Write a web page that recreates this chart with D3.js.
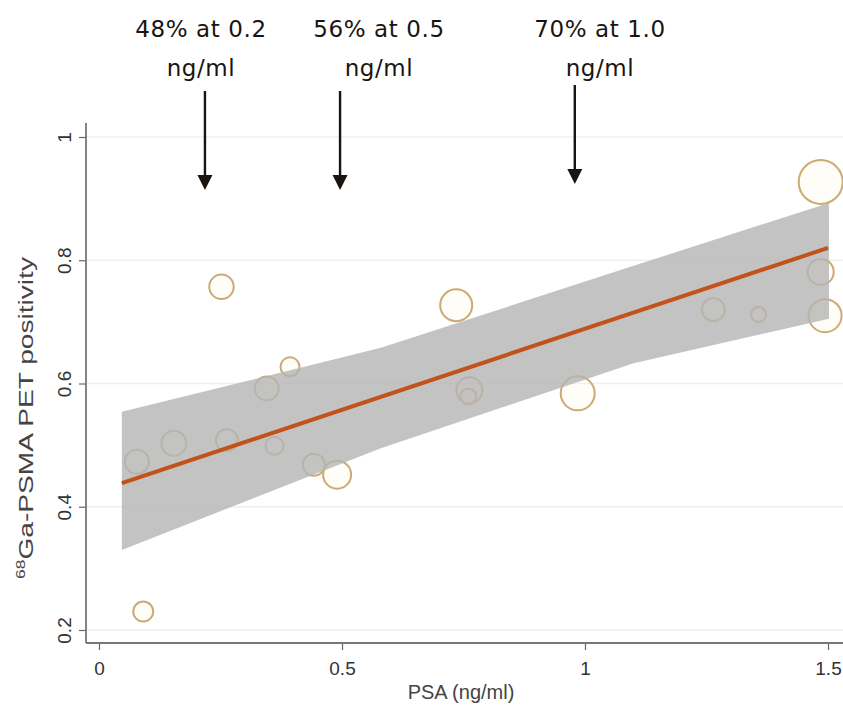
<!DOCTYPE html>
<html><head><meta charset="utf-8">
<script src="https://cdn.jsdelivr.net/npm/d3@7"></script>
<style>body{margin:0;background:#fff}svg{display:block}</style>
</head><body>
<svg id="chart" width="843" height="706"></svg>
<script>
// ---- data ----
const psa        = [0.078, 0.091, 0.154, 0.252, 0.263, 0.345, 0.361, 0.393, 0.442, 0.490, 0.735, 0.762, 0.760, 0.985, 1.264, 1.357, 1.485, 1.485, 1.494];
const positivity = [0.473, 0.230, 0.503, 0.757, 0.508, 0.592, 0.499, 0.627, 0.468, 0.452, 0.727, 0.589, 0.579, 0.584, 0.720, 0.712, 0.781, 0.927, 0.710];
const weight     = [144, 100, 156, 150, 121, 144, 81, 90, 121, 196, 256, 169, 64, 289, 132, 56, 169, 484, 272];
const fitX   = [0.047, 1.5];
const fitY   = [0.4385, 0.82];
const bandX  = [0.047, 0.58, 1.1, 1.502];
const bandLo = [0.330, 0.495, 0.633, 0.705];
const bandHi = [0.554, 0.658, 0.791, 0.893];
const xTicks = [0, 0.5, 1, 1.5];
const xTickLabels = ["0", "0.5", "1", "1.5"];
const yTicks = [0.2, 0.4, 0.6, 0.8, 1];
const yTickLabels = ["0.2", "0.4", "0.6", "0.8", "1"];
const annotLine1 = ["48% at 0.2", "56% at 0.5", "70% at 1.0"];
const annotLine2 = ["ng/ml", "ng/ml", "ng/ml"];
const annotArrowX = [0.218, 0.496, 0.979];
const xTitle = "PSA (ng/ml)";
const yTitleSup = "68";
const yTitle = "Ga-PSMA PET positivity";

// ---- layout ----
const L = {
  x0: 99, x1: 828, yTop: 137, yBot: 630,
  axisX: 86, axisY: 643, axisTop: 123, axisRight: 843,
  annotTextX: [201, 379, 600], annotArrowTop: [91, 91, 85], annotArrowTip: [190, 190, 184]
};

const svg = d3.select("#chart");
const x = d3.scaleLinear().domain([0, 1.5]).range([L.x0, L.x1]);
const y = d3.scaleLinear().domain([0.2, 1]).range([L.yBot, L.yTop]);
const r = d3.scaleSqrt().domain([0, d3.max(weight)]).range([0, 22]);

// gridlines
svg.append("g").selectAll("line").data(yTicks).join("line")
  .attr("x1", L.axisX).attr("x2", L.axisRight)
  .attr("y1", d => y(d)).attr("y2", d => y(d))
  .attr("stroke", "#efefef").attr("stroke-width", 1.6);

// bubbles
const pts = psa.map((d, i) => ({x: d, y: positivity[i], w: weight[i]}));
svg.append("g").selectAll("circle").data(pts).join("circle")
  .attr("cx", d => x(d.x)).attr("cy", d => y(d.y)).attr("r", d => r(d.w))
  .attr("fill", "#fff6e4").attr("fill-opacity", 0.25)
  .attr("stroke", "#cbab72").attr("stroke-width", 2);

// confidence band
const band = bandX.map((d, i) => ({x: d, lo: bandLo[i], hi: bandHi[i]}));
svg.append("path").datum(band)
  .attr("d", d3.area().x(d => x(d.x)).y0(d => y(d.lo)).y1(d => y(d.hi)))
  .attr("fill", "#b4b4b4").attr("fill-opacity", 0.8);

// fit line
svg.append("path").datum(fitX.map((d, i) => [d, fitY[i]]))
  .attr("d", d3.line().x(d => x(d[0])).y(d => y(d[1])))
  .attr("stroke", "#c0521a").attr("stroke-width", 4).attr("fill", "none");

// axes
const font = "'Liberation Sans', Arial, Helvetica, sans-serif";
const gx = svg.append("g").attr("transform", `translate(0,${L.axisY})`)
  .call(d3.axisBottom(x).tickValues(xTicks).tickFormat((d, i) => xTickLabels[i]).tickSize(7).tickSizeOuter(0));
gx.select(".domain").remove();
gx.selectAll(".tick line").attr("stroke", "#666").attr("stroke-width", 1.2);
gx.selectAll(".tick text").attr("y", 32).attr("dy", 0)
  .attr("font-family", font).attr("font-size", 19).attr("fill", "#333");

const gy = svg.append("g").attr("transform", `translate(${L.axisX},0)`)
  .call(d3.axisLeft(y).tickValues(yTicks).tickFormat((d, i) => yTickLabels[i]).tickSize(7).tickSizeOuter(0));
gy.select(".domain").remove();
gy.selectAll(".tick line").attr("stroke", "#666").attr("stroke-width", 1.2);
gy.selectAll(".tick text").attr("x", null).attr("dy", null).attr("y", null)
  .attr("transform", "translate(-15,0) rotate(-90)").attr("text-anchor", "middle")
  .attr("font-family", font).attr("font-size", 19).attr("fill", "#333");

svg.append("line").attr("x1", L.axisX).attr("x2", L.axisRight).attr("y1", L.axisY).attr("y2", L.axisY)
  .attr("stroke", "#777").attr("stroke-width", 1.8);
svg.append("line").attr("x1", L.axisX).attr("x2", L.axisX).attr("y1", L.axisTop).attr("y2", L.axisY)
  .attr("stroke", "#777").attr("stroke-width", 1.8);

// axis titles
svg.append("text").attr("x", 461).attr("y", 699).attr("text-anchor", "middle")
  .attr("font-family", font).attr("font-size", 20).attr("fill", "#444").text(xTitle);
const yt = svg.append("text").attr("transform", "translate(33,418) rotate(-90)").attr("text-anchor", "middle")
  .attr("font-family", font).attr("font-size", 21).attr("fill", "#444")
  .attr("textLength", 322).attr("lengthAdjust", "spacingAndGlyphs");
yt.append("tspan").attr("font-size", 13).attr("dy", -8).text(yTitleSup);
yt.append("tspan").attr("dy", 8).text(yTitle);

// annotations
const afont = "'DejaVu Sans', 'Noto Sans', sans-serif";
const ann = svg.append("g");
annotLine1.forEach((t, i) => {
  ann.append("text").attr("x", L.annotTextX[i]).attr("y", 37).attr("text-anchor", "middle")
    .attr("font-family", afont).attr("font-size", 23).attr("letter-spacing", 0.6).attr("fill", "#1a1410").text(t);
  ann.append("text").attr("x", L.annotTextX[i]).attr("y", 76).attr("text-anchor", "middle")
    .attr("font-family", afont).attr("font-size", 23).attr("letter-spacing", 0.6).attr("fill", "#1a1410").text(annotLine2[i]);
  const ax = x(annotArrowX[i]);
  ann.append("line").attr("x1", ax).attr("x2", ax).attr("y1", L.annotArrowTop[i]).attr("y2", L.annotArrowTip[i] - 12)
    .attr("stroke", "#1a1410").attr("stroke-width", 2.4);
  const tip = L.annotArrowTip[i];
  ann.append("path").attr("d", `M${ax - 7.5},${tip - 15}L${ax + 7.5},${tip - 15}L${ax},${tip}Z`).attr("fill", "#1a1410");
});
</script>
</body></html>
